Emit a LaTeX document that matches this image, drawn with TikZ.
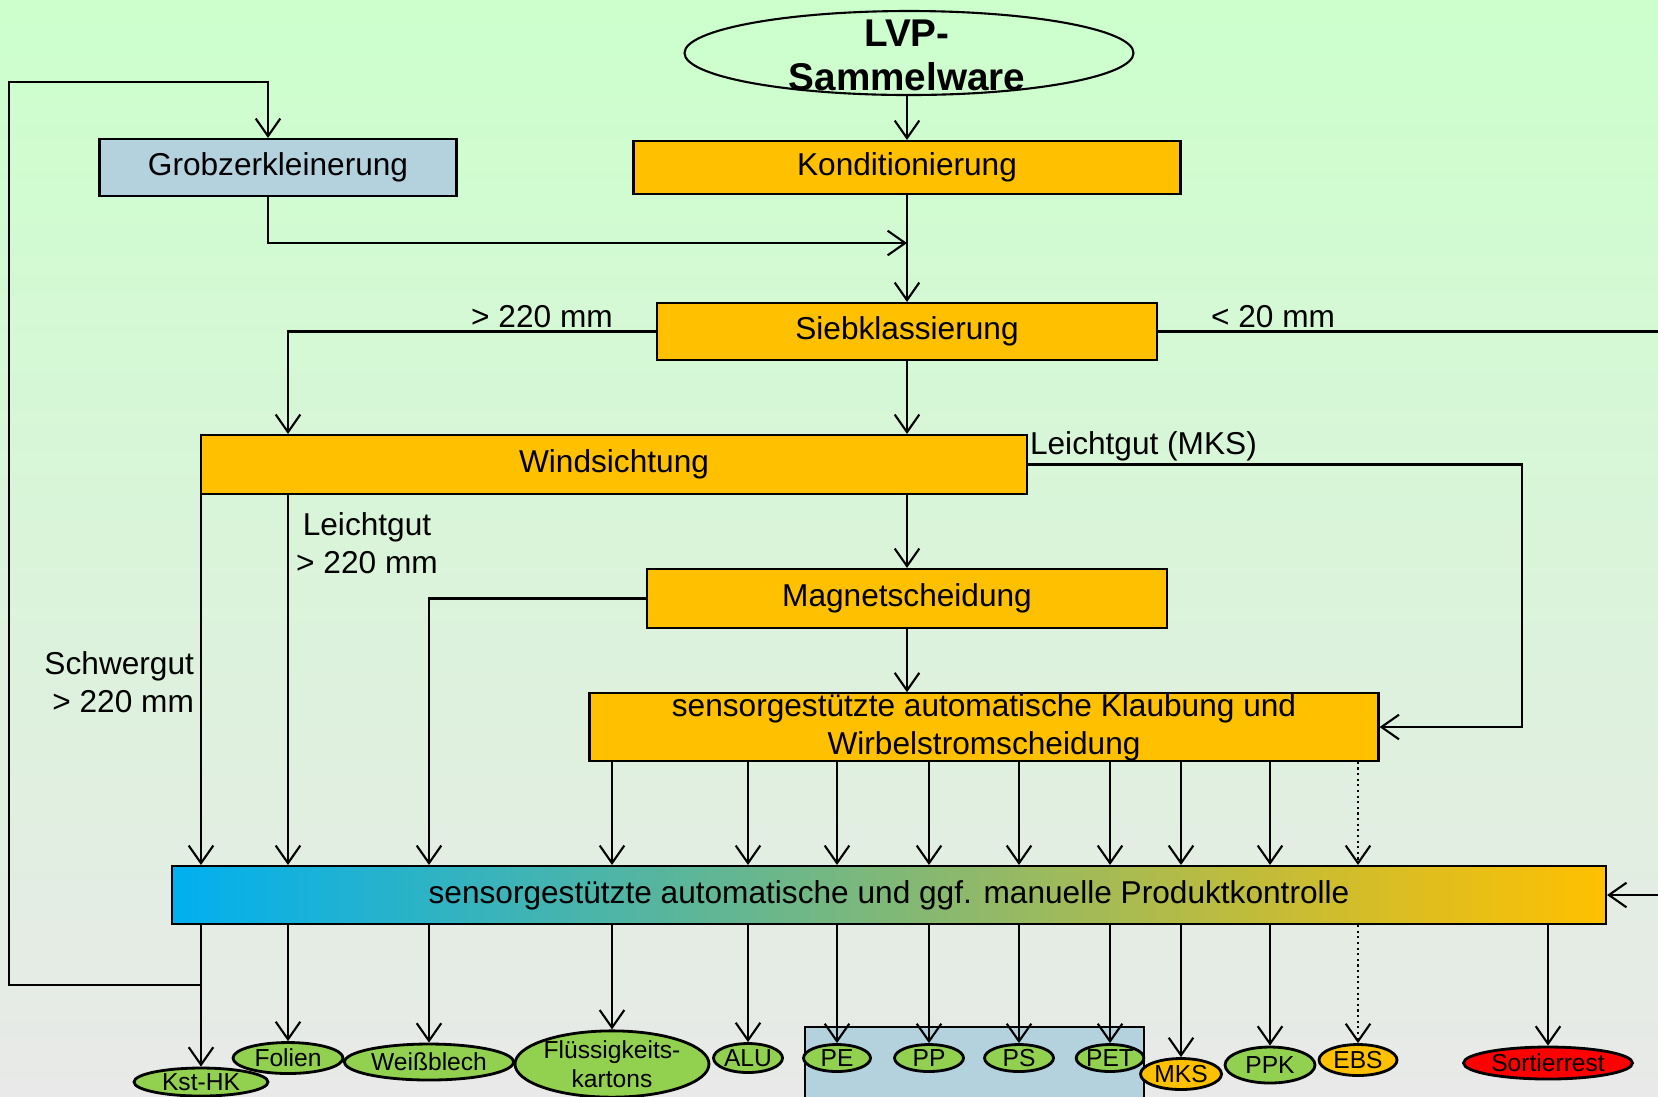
\documentclass[tikz,border=0pt]{standalone}
\usepackage{fontspec}
\setmainfont{Liberation Sans}
\usetikzlibrary{arrows.meta, positioning, shapes.geometric}

\definecolor{bgtop}{RGB}{204,255,204}
\definecolor{bgbottom}{RGB}{232,233,232}
\definecolor{amber}{RGB}{255,192,0}
\definecolor{cyanblau}{RGB}{0,176,240}
\definecolor{hellgruen}{RGB}{146,208,80}
\definecolor{graublau}{RGB}{180,210,222}

\begin{document}
\begin{tikzpicture}[>={Straight Barb[length=5pt,width=7pt]}, line width=0.6pt, on grid,
    proc/.style={rectangle, draw, fill=amber, inner sep=0pt, minimum height=0.57cm,
                 font=\fontsize{9}{10.8}\selectfont, align=center},
    prod/.style={ellipse, draw, fill=hellgruen, inner sep=0pt, line width=0.8pt,
                 font=\fontsize{7}{8.2}\selectfont, align=center},
    lbl/.style={inner sep=0pt, font=\fontsize{9}{10.8}\selectfont}]
    \useasboundingbox (0,0) rectangle (16.58,-10.96);
    \shade[top color=bgtop, bottom color=bgbottom] (0,0) rectangle (16.58,-10.96);

    \node[ellipse, draw, inner sep=0pt, minimum width=4.49cm, minimum height=0.84cm] (lvp) at (9.09,-0.53) {};
    \node[inner sep=0pt, font=\fontsize{11}{12.5}\selectfont\bfseries, align=center] (lvptext) at (9.07,-0.55) {LVP-\\Sammelware};
    \node[proc, minimum width=5.47cm, minimum height=0.53cm] (kond) [below=1.125cm of lvptext] {Konditionierung};
    \node[proc, minimum width=3.57cm, fill=graublau] (grob) [left=6.29cm of kond] {Grobzerkleinerung};
    \node[proc, minimum width=5.00cm] (sieb) [below=1.64cm of kond] {Siebklassierung};
    \node[proc, minimum width=8.26cm, minimum height=0.59cm] (wind) [below left=1.33cm and 2.93cm of sieb] {Windsichtung};
    \node[proc, minimum width=5.20cm, minimum height=0.59cm] (mag) [below=2.67cm of sieb] {Magnetscheidung};
    \node[proc, minimum width=7.89cm, minimum height=0.64cm] (klaub) [below right=1.285cm and 0.77cm of mag]
        {sensorgestützte automatische Klaubung und\\Wirbelstromscheidung};
    \node[proc, minimum width=14.34cm, minimum height=0.58cm, left color=cyanblau, right color=amber] (pk)
        [below left=1.68cm and 0.95cm of klaub] {sensorgestützte automatische und ggf. manuelle Produktkontrolle};

    % Produkte
    \node[rectangle, draw, fill=graublau, minimum width=3.39cm, minimum height=0.73cm] (kunst) at (9.745,-10.635) {};
    \node[prod, minimum width=1.34cm, minimum height=0.28cm] (kst) at (2.01,-10.82) {Kst-HK};
    \node[prod, minimum width=1.10cm, minimum height=0.31cm] (folien) at (2.88,-10.58) {Folien};
    \node[prod, minimum width=1.69cm, minimum height=0.36cm] (weiss) at (4.29,-10.62) {Weißblech};
    \node[prod, minimum width=1.94cm, minimum height=0.61cm] (flk) at (6.12,-10.64) {Flüssigkeits-\\kartons};
    \node[prod, minimum width=0.69cm, minimum height=0.29cm] (alu) at (7.48,-10.58) {ALU};
    \node[prod, minimum width=0.67cm, minimum height=0.27cm] (pe) at (8.37,-10.58) {PE};
    \node[prod, minimum width=0.69cm, minimum height=0.27cm] (pp) at (9.29,-10.58) {PP};
    \node[prod, minimum width=0.69cm, minimum height=0.27cm] (ps) at (10.19,-10.58) {PS};
    \node[prod, minimum width=0.67cm, minimum height=0.27cm] (pet) at (11.10,-10.58) {PET};
    \node[prod, minimum width=0.81cm, minimum height=0.31cm, fill=amber] (mks) at (11.81,-10.74) {MKS};
    \node[prod, minimum width=0.90cm, minimum height=0.36cm] (ppk) at (12.70,-10.65) {PPK};
    \node[prod, minimum width=0.78cm, minimum height=0.31cm, fill=amber] (ebs) at (13.58,-10.60) {EBS};
    \node[prod, minimum width=1.69cm, minimum height=0.32cm, fill=red] (sort) at (15.48,-10.63) {Sortierrest};

    % Beschriftungen
    \node[lbl] (l220) at (5.42,-3.17) {> 220 mm};
    \node[lbl] (l20) at (12.73,-3.17) {< 20 mm};
    \node[lbl, anchor=west] (lmks) at (10.29,-4.46) {Leichtgut (MKS)};
    \node[lbl, align=center] (lleicht) at (3.67,-5.43) {Leichtgut\\> 220 mm};
    \node[lbl, align=right, anchor=east] (lschwer) at (1.95,-6.82) {Schwergut\\> 220 mm};

    \coordinate (merge) at (9.07,-2.43);
    \coordinate (looptop) at (2.68,-0.82);
    \coordinate (loopbot) at (0.09,-9.85);
    \coordinate (rand) at (16.58,0);

    \draw[->] (kond |- lvp.south) -- (kond);
    \draw[->] (kond) -- (sieb);
    \draw[->] (looptop |- grob.south) |- (merge);
    \draw[->] (sieb) -- (sieb |- wind.north);
    \draw[->] (sieb.west) -| (wind.north -| folien);
    \draw (sieb.east) -- (sieb.east -| rand);
    \draw[->] (mag |- wind.south) -- (mag);
    \draw[->] (wind.east) -- ++(4.94,0) |- (klaub.east);
    \draw[->] (mag) -- (mag |- klaub.north);
    \draw[->] (mag.west) -| (pk.north -| weiss);
    \foreach \p in {kst,folien}
        \draw[->] (wind.south -| \p) -- (pk.north -| \p);
    \foreach \p in {flk,alu,pe,pp,ps,pet,mks,ppk}
        \draw[->] (klaub.south -| \p) -- (pk.north -| \p);
    \draw[->, densely dotted] (klaub.south -| ebs) -- (pk.north -| ebs);
    \draw[->] (pk.east -| rand) -- (pk.east);
    \foreach \p in {kst,folien,weiss,flk,alu,pe,pp,ps,pet,mks,ppk,sort}
        \draw[->] (pk.south -| \p) -- (\p);
    \draw[->, densely dotted] (pk.south -| ebs) -- (ebs);
    \draw[->] (loopbot -| kst) -- (loopbot) |- (looptop) -- (looptop |- grob.north);
\end{tikzpicture}
\end{document}
